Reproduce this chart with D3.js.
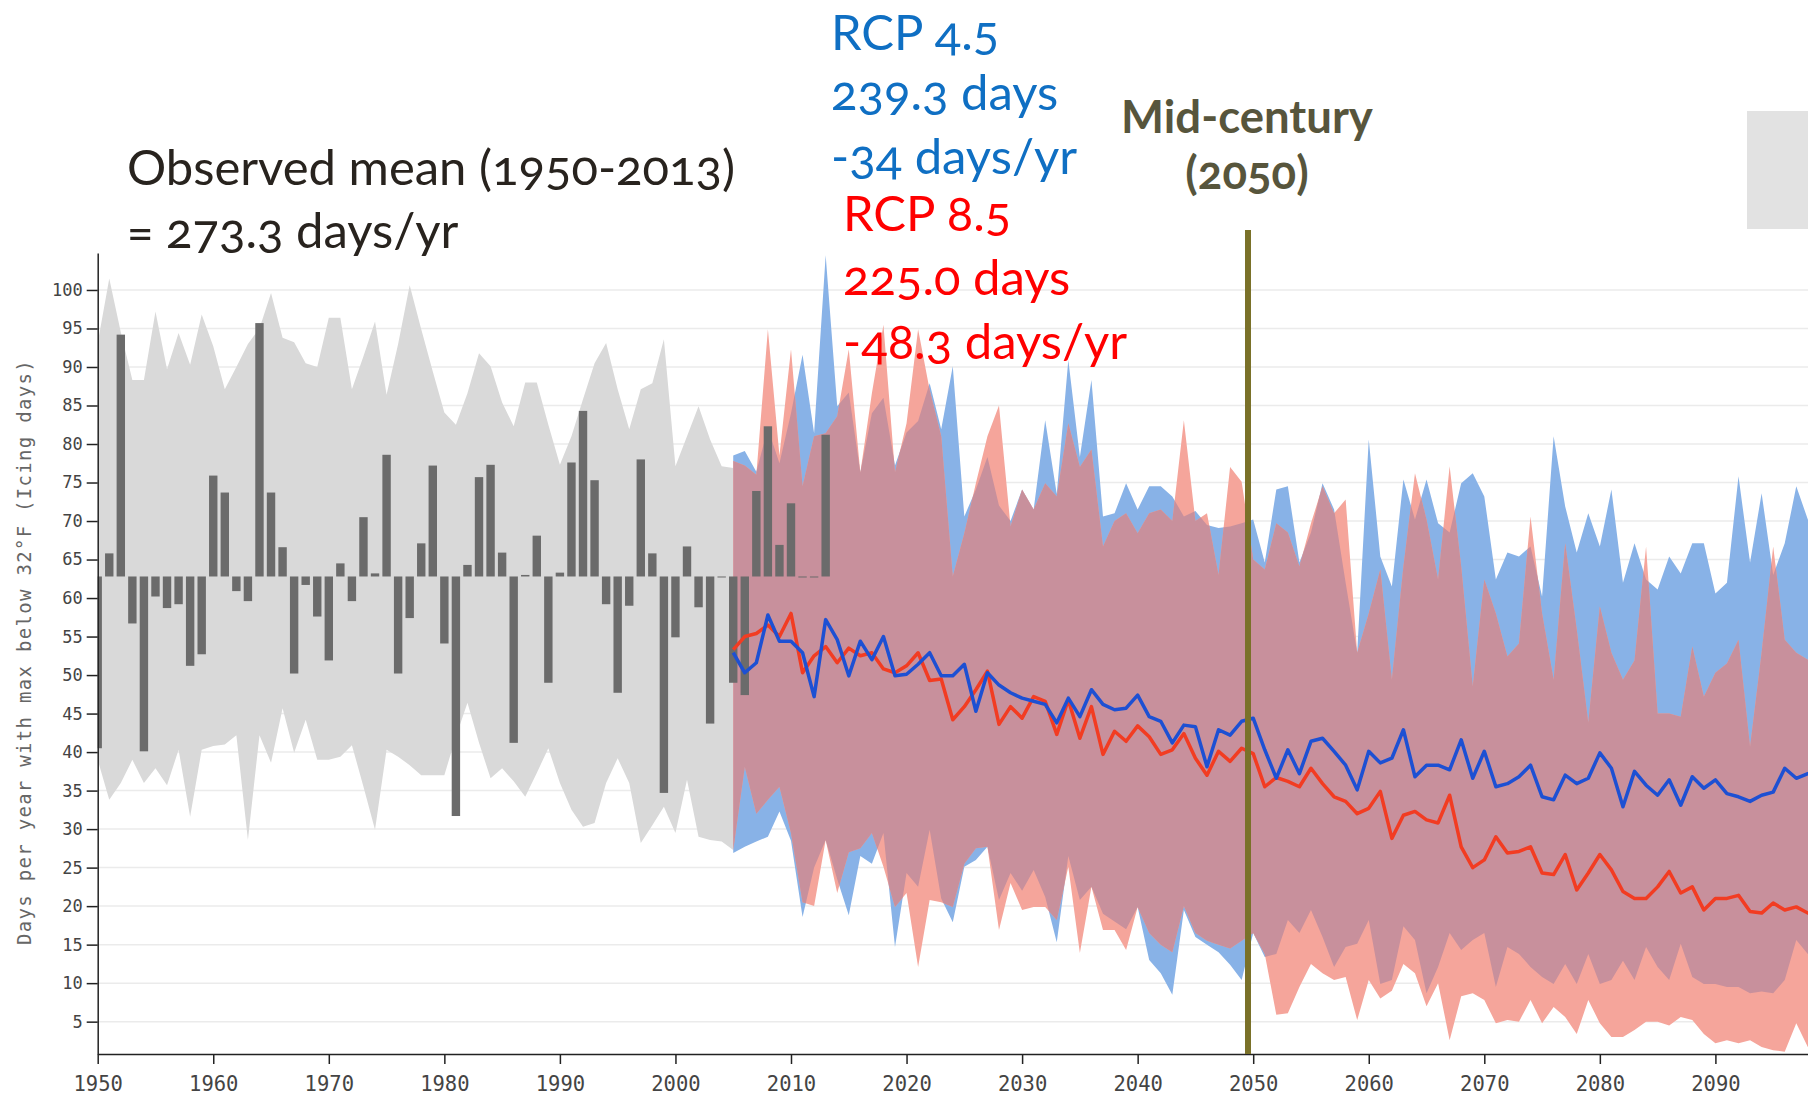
<!DOCTYPE html>
<html>
<head>
<meta charset="utf-8">
<script src="https://cdn.jsdelivr.net/npm/d3@7/dist/d3.min.js"></script>
<style>
  body { margin: 0; background: #fff; }
  svg { display: block; }
  .note { font-family: Lato, "Open Sans", sans-serif; font-variant-numeric: oldstyle-nums; font-feature-settings: "onum" 1; }
  .axis text { font-family: "DejaVu Sans Mono", monospace; fill: #444; }
  .axis path, .axis line { stroke: #222; stroke-width: 1.5; }
</style>
</head>
<body>
<script>
// ---- data ----
var yTicks = [5,10,15,20,25,30,35,40,45,50,55,60,65,70,75,80,85,90,95,100];
var xTicks = [1950,1960,1970,1980,1990,2000,2010,2020,2030,2040,2050,2060,2070,2080,2090];

var observedMean = 62.8;
var obsYears = d3.range(1950, 2014);
var obsDays = [40.5,65.8,94.2,56.7,40.1,60.2,58.7,59.2,51.2,52.7,
  75.9,73.7,60.9,59.6,95.7,73.7,66.6,50.2,61.7,57.6,
  51.9,64.5,59.6,70.5,63.2,78.6,50.2,57.4,67.1,77.2,
  54.1,31.7,64.3,75.7,77.3,65.9,41.2,63.0,68.1,49.0,
  63.3,77.6,84.3,75.3,59.2,47.7,59.0,78.0,65.8,34.7,
  54.9,66.7,58.8,43.7,62.8,49.0,47.4,73.9,82.3,66.9,
  72.3,62.8,62.8,81.2];

// historical model range 1950-2005
var histYears = d3.range(1950, 2006);
var histTop = [93.1,101.5,94.5,88.3,88.3,97.2,89.7,94.4,90.3,96.8,
  92.7,87.1,90.0,93.0,95.0,99.6,93.8,93.2,90.5,90.0,
  96.4,96.4,87.1,91.4,95.9,86.4,93.0,100.6,94.9,89.4,
  84.1,82.5,86.6,91.8,90.1,85.4,82.3,88.0,88.0,82.5,
  77.3,81.0,85.8,90.5,93.1,87.1,81.9,87.1,87.9,93.6,
  77.1,81.0,84.9,80.6,77.1,76.9];
var histBottom = [39.0,33.8,36.0,39.0,36.0,37.9,35.7,40.3,31.6,40.3,
  40.8,41.0,42.2,28.6,42.2,38.6,45.7,39.9,44.2,39.0,
  39.0,39.4,40.9,35.5,29.9,40.3,39.4,38.3,37.0,37.0,
  37.0,42.0,46.4,41.2,36.6,37.9,36.2,34.2,37.3,40.5,
  36.0,32.5,30.3,30.8,36.0,39.2,36.0,28.2,30.5,32.9,
  29.5,36.4,29.0,28.6,28.4,27.3];

// projections 2005-2099
var projYears = d3.range(2005, 2100);
var rcp45Top = [78.5,79.1,76.4,82.0,77.5,84.0,91.6,81.4,104.5,84.9,
  86.7,76.3,84.0,86.0,77.2,81.5,83.0,87.9,81.9,90.1,
  70.6,74.1,78.3,72.0,70.0,74.1,71.5,83.1,73.5,90.9,
  78.3,88.3,70.6,71.0,74.9,71.5,74.5,74.5,73.2,70.6,
  71.3,69.5,69.1,69.3,69.7,70.2,64.6,74.1,74.5,64.6,
  68.5,74.9,71.5,62.0,52.9,80.6,65.4,61.5,75.4,70.2,
  75.4,69.7,68.5,74.9,76.2,73.2,62.4,65.9,65.4,66.7,
  60.2,81.0,71.9,65.9,71.0,66.7,74.1,62.0,67.1,62.4,
  61.1,65.4,63.2,67.1,67.1,60.6,62.0,75.8,64.6,73.6,
  63.0,67.1,74.5,70.2,68.0];
var rcp45Bottom = [26.9,27.7,28.4,29.0,32.3,28.5,18.6,25.0,28.6,23.5,
  18.8,26.5,25.5,29.5,14.7,24.3,22.5,29.9,21.0,17.9,
  25.1,26.0,27.7,20.8,24.3,22.0,24.7,21.2,15.3,26.5,
  20.8,22.5,19.0,18.0,17.0,19.9,13.0,11.3,8.5,19.5,
  16.0,15.0,14.0,12.4,10.4,16.5,13.4,13.8,18.2,16.5,
  19.5,16.0,12.1,14.7,15.1,18.2,9.9,10.4,17.4,15.6,
  8.7,12.1,16.5,14.3,15.6,16.5,9.5,14.7,13.8,12.1,
  10.8,9.9,12.5,9.9,13.8,9.9,10.4,12.9,10.4,14.7,
  12.1,10.4,15.1,10.8,9.9,9.9,9.5,9.5,8.7,8.9,
  8.7,10.4,15.6,13.8,13.0];
var rcp45Median = [52.9,50.3,51.6,57.8,54.4,54.4,52.9,47.2,57.2,54.6,
  49.9,54.4,52.0,55.0,49.9,50.1,51.4,52.9,49.9,49.9,
  51.4,45.3,50.3,48.7,47.7,47.0,46.6,46.2,43.8,47.0,
  44.6,48.1,46.2,45.5,45.7,47.4,44.6,44.0,41.2,43.5,
  43.3,38.1,42.9,42.2,44.0,44.4,40.3,36.6,40.3,37.2,
  41.4,41.8,40.1,38.3,35.1,40.1,38.6,39.2,42.9,36.8,
  38.3,38.3,37.7,41.6,36.6,40.1,35.5,35.9,36.8,38.3,
  34.2,33.8,37.0,35.9,36.6,39.9,37.9,32.9,37.5,35.7,
  34.4,36.4,33.1,36.8,35.3,36.4,34.6,34.2,33.6,34.4,
  34.8,37.9,36.6,37.2,37.5];

var rcp85Top = [77.8,77.2,76.0,94.9,78.5,92.3,74.5,81.0,81.4,83.6,
  92.3,76.3,86.6,95.5,76.3,82.7,94.9,87.0,81.0,62.8,
  68.4,74.9,81.0,85.0,69.3,74.1,71.5,74.9,73.2,82.7,
  77.0,79.3,66.7,70.0,71.0,68.4,71.0,71.5,70.0,83.1,
  70.0,71.0,63.0,77.0,75.1,65.0,63.7,69.7,68.5,64.1,
  69.7,74.5,71.0,72.8,52.9,58.0,63.7,49.4,64.1,76.2,
  70.2,62.4,77.1,64.1,48.5,62.4,58.0,52.4,54.1,70.6,
  58.0,49.4,67.1,55.9,43.8,58.9,52.9,49.4,51.9,66.7,
  45.0,45.0,44.6,53.7,47.2,50.3,51.5,54.6,40.7,52.9,
  66.7,54.6,52.9,52.0,53.0];
var rcp85Bottom = [27.3,38.1,32.0,33.8,35.5,29.5,20.5,20.0,28.6,21.7,
  27.0,27.5,29.5,25.1,19.9,21.7,12.1,20.8,20.5,19.9,
  25.5,27.5,27.7,16.9,23.0,19.5,19.9,19.9,18.2,25.1,
  13.9,22.5,16.9,16.9,14.3,19.9,16.5,15.0,14.0,20.0,
  16.5,15.5,15.0,14.5,15.5,16.5,13.8,5.9,6.1,9.5,
  12.5,11.3,10.4,10.8,5.2,10.4,8.0,9.0,12.5,11.3,
  7.0,10.0,2.6,8.3,8.7,7.8,4.8,5.2,5.0,7.8,
  4.8,6.9,5.6,3.4,7.8,4.8,3.0,3.0,3.9,5.0,
  5.0,4.5,5.6,5.2,3.4,2.2,2.6,2.2,2.6,1.7,
  1.3,1.1,4.8,1.7,2.0];
var rcp85Median = [53.3,55.0,55.4,56.5,55.0,58.0,50.3,52.5,53.7,51.6,
  53.5,52.5,52.9,50.8,50.3,51.2,52.9,49.3,49.5,44.2,
  45.9,48.1,50.5,43.6,45.9,44.4,47.2,46.6,42.3,46.8,
  41.8,45.9,39.7,42.7,41.4,43.4,42.0,39.7,40.3,42.4,
  39.2,37.0,40.1,38.8,40.5,39.8,35.5,36.7,36.2,35.5,
  37.9,35.9,34.2,33.6,32.0,32.7,34.9,28.8,31.8,32.3,
  31.2,30.8,34.4,27.7,25.0,26.0,29.0,26.9,27.1,27.7,
  24.3,24.1,26.7,22.1,24.3,26.7,24.7,21.9,21.0,21.0,
  22.5,24.5,21.7,22.5,19.5,21.0,21.0,21.4,19.3,19.1,
  20.4,19.5,19.9,19.1,19.5];

var midCenturyYear = 2049.55;

var observedLines = ["Observed mean (1950-2013)", "= 273.3 days/yr"];
var rcp45Lines = ["RCP 4.5", "239.3 days", "-34 days/yr"];
var rcp85Lines = ["RCP 8.5", "225.0 days", "-48.3 days/yr"];
var midLines = ["Mid-century", "(2050)"];
var yTitle = "Days per year with max below 32°F (Icing days)";

// ---- layout ----
var svgWidth = 1808;
var svgHeight = 1098;

var svg = d3.select("body")
  .append("svg")
  .attr("width", svgWidth)
  .attr("height", svgHeight);

var xScale = d3.scaleLinear().domain([1950, 2100]).range([97.7, 97.7 + 150 * 11.555]);
var yScale = d3.scaleLinear().domain([0.8, 104.8]).range([1054, 253]);

var plotLeft = xScale(1950), plotBottom = yScale(0.8);

svg.append("clipPath").attr("id", "plot")
  .append("rect")
  .attr("x", plotLeft).attr("y", 230)
  .attr("width", svgWidth - plotLeft).attr("height", plotBottom - 230);

// gridlines
svg.append("g").selectAll("line")
  .data(yTicks)
  .enter().append("line")
  .attr("x1", plotLeft).attr("x2", svgWidth)
  .attr("y1", d => yScale(d)).attr("y2", d => yScale(d))
  .attr("stroke", "#ebebeb").attr("stroke-width", 1.5);

var chart = svg.append("g").attr("clip-path", "url(#plot)");

var hist = histYears.map((y, i) => ({year: y, lo: histBottom[i], hi: histTop[i]}));
var r45 = projYears.map((y, i) => ({year: y, lo: rcp45Bottom[i], hi: rcp45Top[i], mid: rcp45Median[i]}));
var r85 = projYears.map((y, i) => ({year: y, lo: rcp85Bottom[i], hi: rcp85Top[i], mid: rcp85Median[i]}));

var band = d3.area()
  .x(d => xScale(d.year))
  .y0(d => yScale(d.lo))
  .y1(d => yScale(d.hi));

chart.append("path").attr("d", band(hist)).attr("fill", "#d9d9d9");
chart.append("path").attr("d", band(r45)).attr("fill", "#88b2e7");
chart.append("path").attr("d", band(r85)).attr("fill", "#f5a59b");

// overlap of the two ranges
svg.append("clipPath").attr("id", "r85clip")
  .append("path").attr("d", band(r85));
chart.append("g").attr("clip-path", "url(#r85clip)")
  .append("path").attr("d", band(r45)).attr("fill", "#c8909c");

// observed anomalies as bars around the mean
chart.append("g").selectAll("rect")
  .data(obsYears.map((y, i) => ({year: y, v: obsDays[i]})))
  .enter().append("rect")
  .attr("x", d => xScale(d.year) - 4.2)
  .attr("width", 8.4)
  .attr("y", d => yScale(Math.max(d.v, observedMean)))
  .attr("height", d => Math.max(1, Math.abs(yScale(d.v) - yScale(observedMean))))
  .attr("fill", "#6b6b6b");

var medianLine = d3.line()
  .x(d => xScale(d.year))
  .y(d => yScale(d.mid));

chart.append("path").attr("d", medianLine(r85))
  .attr("fill", "none").attr("stroke", "#f23c22").attr("stroke-width", 3.5).attr("stroke-linejoin", "round");
chart.append("path").attr("d", medianLine(r45))
  .attr("fill", "none").attr("stroke", "#1d50d3").attr("stroke-width", 3.5).attr("stroke-linejoin", "round");

// axes
var bottomAxis = d3.axisBottom(xScale).tickValues(xTicks).tickFormat(d3.format("d"))
  .tickSize(10).tickSizeOuter(0).tickPadding(12);
var leftAxis = d3.axisLeft(yScale).tickValues(yTicks).tickSize(11).tickSizeOuter(0).tickPadding(4);

svg.append("g").attr("class", "axis")
  .attr("transform", `translate(0, ${plotBottom})`)
  .call(bottomAxis)
  .selectAll("text").style("font-size", "20.5px");

svg.append("g").attr("class", "axis")
  .attr("transform", `translate(${plotLeft}, 0)`)
  .call(leftAxis)
  .selectAll("text").style("font-size", "17px");

svg.append("text")
  .attr("transform", "rotate(-90)")
  .attr("x", -652).attr("y", 31)
  .attr("text-anchor", "middle")
  .style("font-family", "'DejaVu Sans Mono', monospace")
  .style("font-size", "19px")
  .style("letter-spacing", "1.3px")
  .attr("fill", "#666")
  .text(yTitle);

// mid-century marker
svg.append("line")
  .attr("x1", xScale(midCenturyYear)).attr("x2", xScale(midCenturyYear))
  .attr("y1", 230).attr("y2", plotBottom)
  .attr("stroke", "#7a7129").attr("stroke-width", 6);

svg.append("rect")
  .attr("x", 1747).attr("y", 111).attr("width", 61).attr("height", 118)
  .attr("fill", "#e2e2e2");

// annotations
function note(lines, x, ys, color, size, anchor, weight) {
  var t = svg.append("text").attr("class", "note")
    .attr("fill", color).style("font-size", size + "px")
    .attr("text-anchor", anchor || "start")
    .style("font-weight", weight || 400);
  lines.forEach(function(s, i) {
    t.append("tspan").attr("x", x).attr("y", ys[i]).text(s);
  });
}

note(observedLines, 127, [185, 248], "#28231e", 49);
note(rcp45Lines, 831, [50, 110, 174], "#0f6fc3", 49);
note(rcp85Lines, 843, [231, 295, 359], "#ff0000", 49);
note(midLines, 1247, [133, 189], "#57553c", 45.5, "middle", 700);
</script>
</body>
</html>
